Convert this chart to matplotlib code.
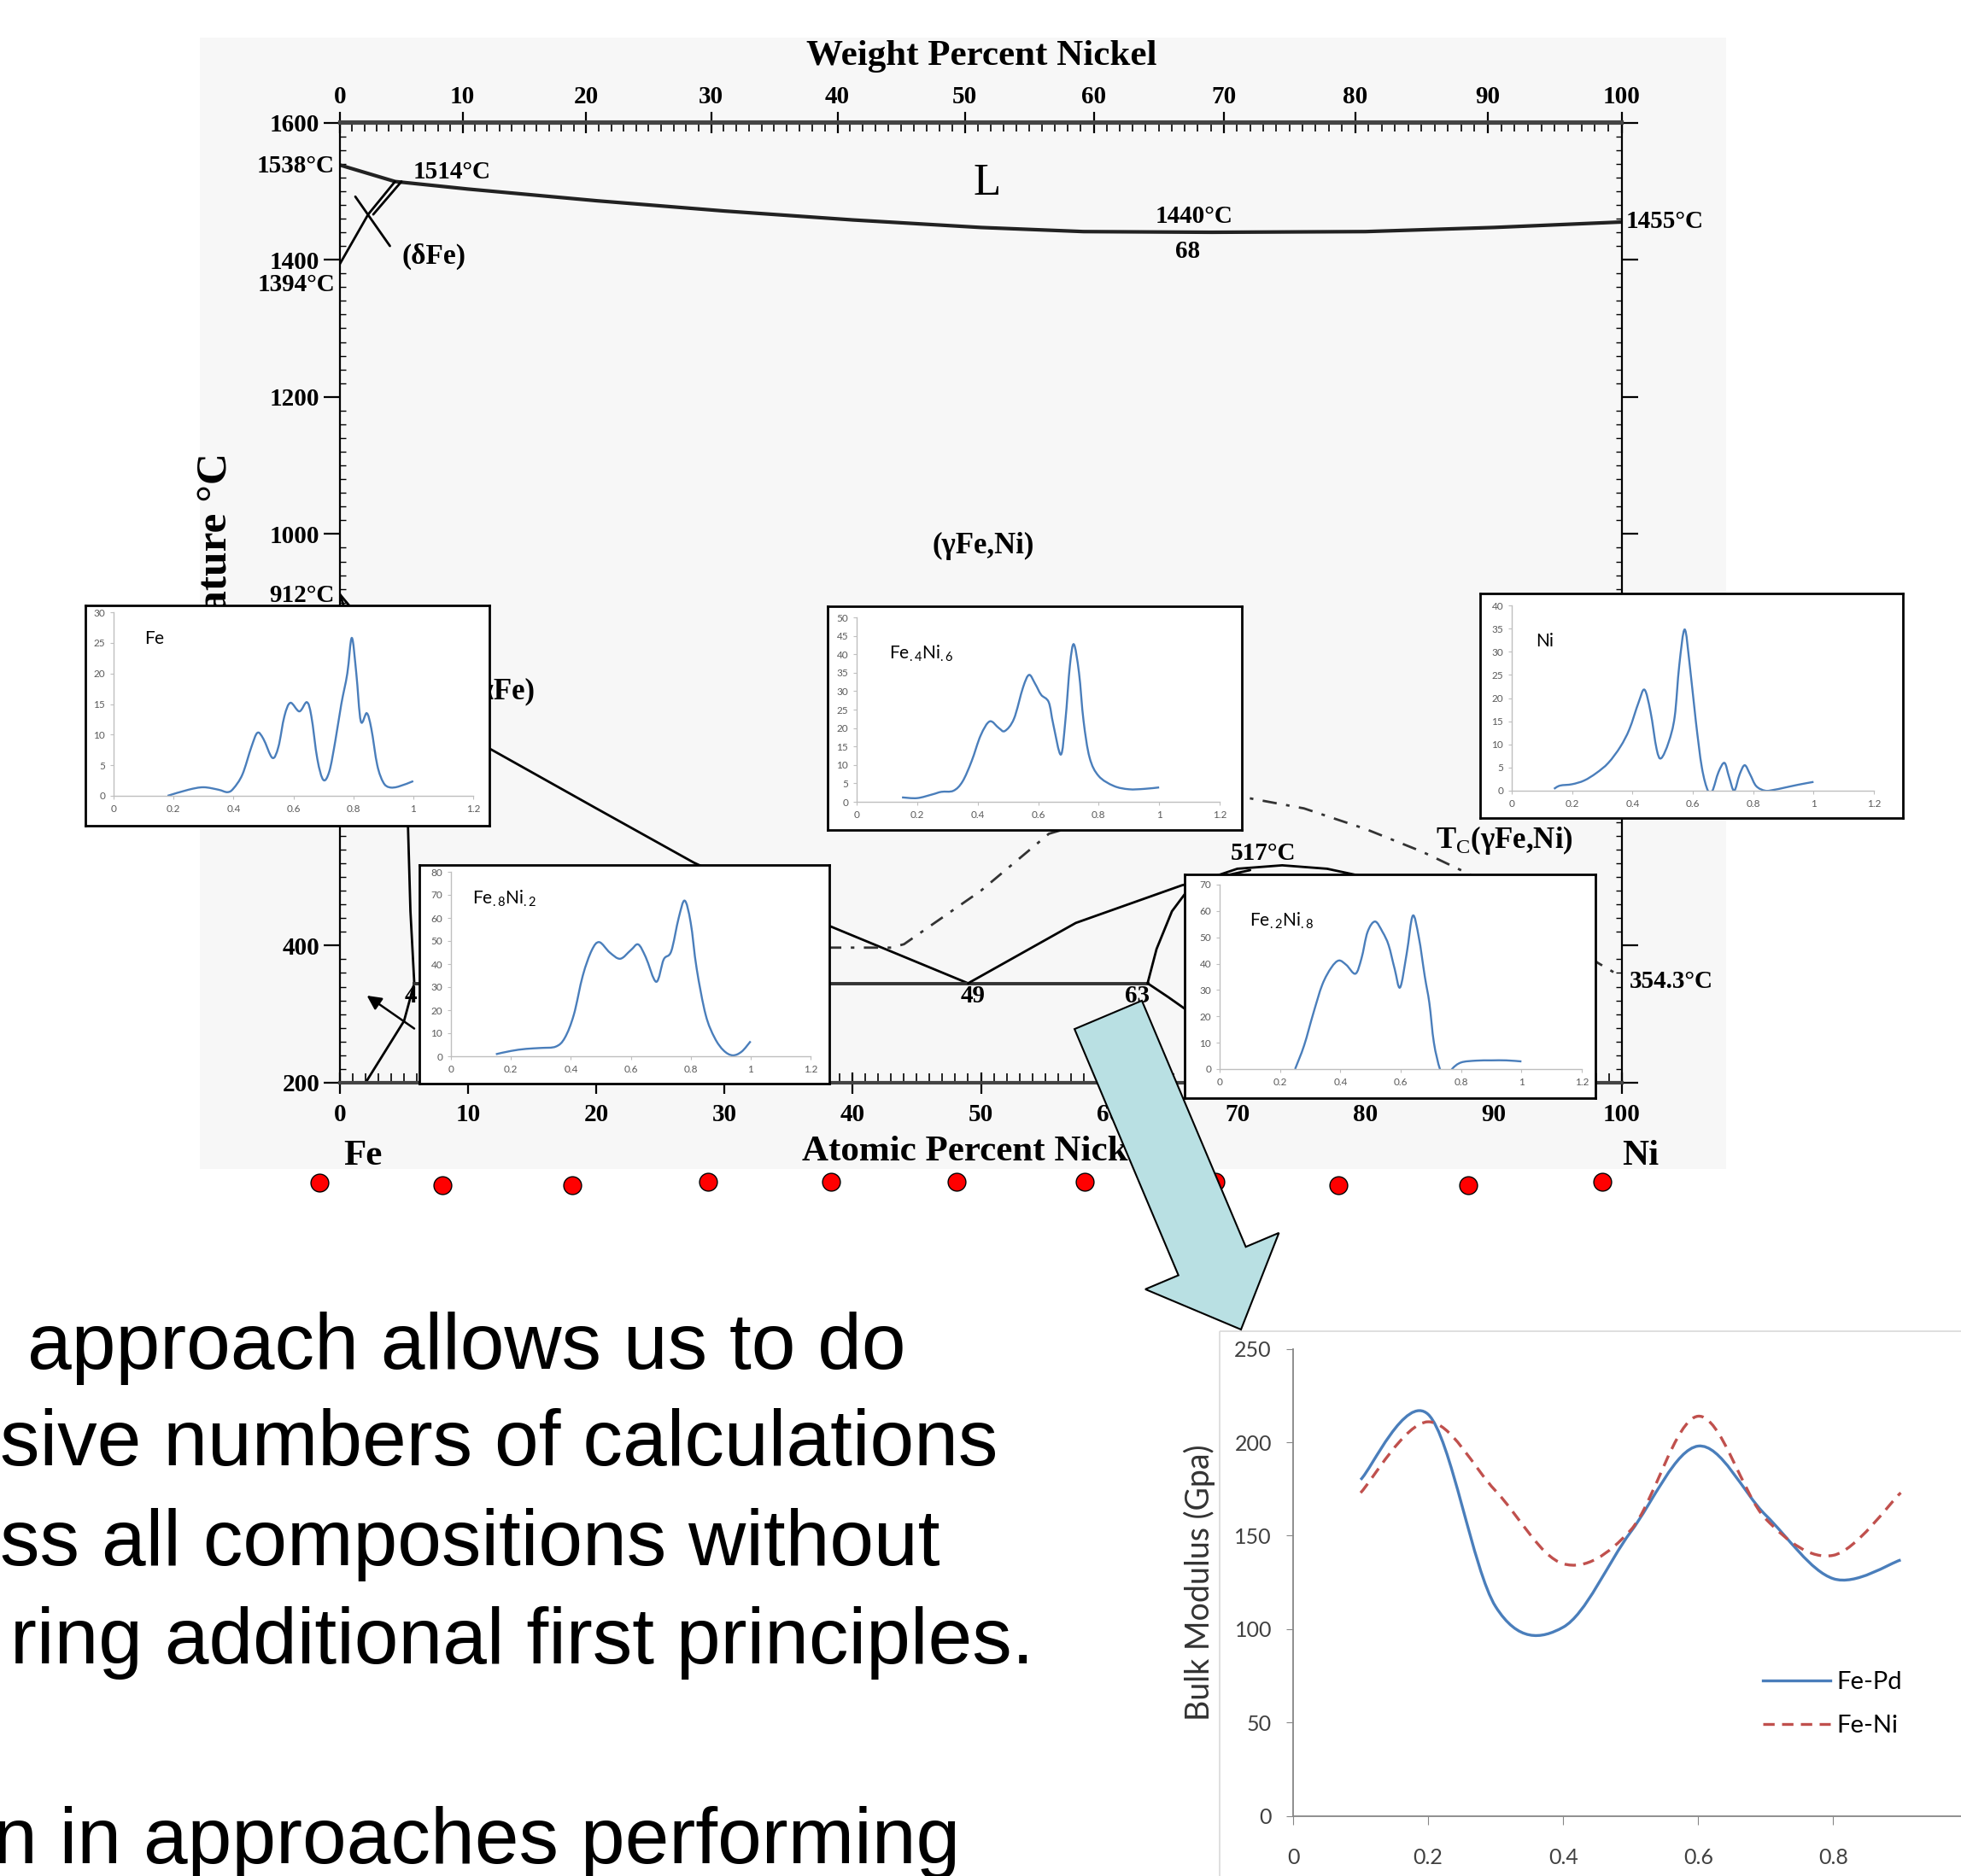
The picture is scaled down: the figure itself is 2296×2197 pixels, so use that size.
import numpy as np
import matplotlib
matplotlib.use("Agg")
import matplotlib.pyplot as plt
from matplotlib.path import Path
from matplotlib.patches import PathPatch, Rectangle, FancyArrow
from matplotlib.lines import Line2D
from matplotlib.ticker import MultipleLocator, FuncFormatter

W, H = 2296, 2197
plt.rcParams['mathtext.fontset'] = 'custom'
plt.rcParams['mathtext.rm'] = 'Liberation Serif'
plt.rcParams['mathtext.sf'] = 'Lato'
SERIF = 'Liberation Serif'

# ---- Fe-Ni phase diagram lines (atomic % Ni, deg C) ----
liq_x = [0, 4.3, 10, 20, 30, 40, 50, 58, 68, 80, 90, 100]
liq_t = [1538, 1514, 1503, 1486, 1471, 1458, 1447, 1441, 1440, 1441, 1447, 1455]
delta1_x = [0, 2.2, 4.3]
delta1_t = [1394, 1466, 1514]
delta2_x = [1.2, 3.9]
delta2_t = [1492, 1420]
delta3_x = [2.6, 4.8]
delta3_t = [1466, 1514]
gamma_x = [0, 5, 11.5, 20, 27.6, 38, 49]
gamma_t = [912, 800, 689, 600, 521, 430, 345]
alpha_x = [0, 2, 4, 5.3, 5.5, 5.8]
alpha_t = [912, 800, 700, 580, 450, 345]
solvus_x = [5.8, 5.0, 3.5, 2.0]
solvus_t = [345, 290, 245, 200]
eut_x = [5.8, 63]
eut_t = [345, 345]
rise_x = [49, 57.4, 65.7, 71]
rise_t = [345, 433, 488, 510]
dome_x = [63, 63.7, 64.9, 66.5, 70, 73.5, 77, 80]
dome_t = [345, 395, 450, 490, 512, 517, 512, 500]
low_x = [63, 64.6, 66.5]
low_t = [345, 325, 300]
tc_x = [38, 43, 44, 50, 55.3, 62, 70.6, 75.2, 80, 84.4, 88, 92, 96, 98.1, 100]
tc_t = [397, 397, 402, 480, 563, 600, 616, 600, 570, 537, 505, 465, 405, 375, 354]

# compositions sampled (red dots)
dot_x = [-1.6, 8.0, 18.1, 28.7, 38.3, 48.1, 58.1, 68.3, 77.9, 88.0, 98.5]
dot_t = [54, 51, 51, 56, 56, 56, 56, 56, 51, 51, 56]

# ---- inset spectra ----
fe_x = [0.18, 0.25, 0.30, 0.35, 0.38, 0.40, 0.43, 0.46, 0.48, 0.50, 0.53, 0.55, 0.57, 0.59, 0.62,
        0.645, 0.66, 0.68, 0.70, 0.72, 0.74, 0.76, 0.78, 0.795, 0.81, 0.825, 0.845, 0.86, 0.88,
        0.90, 0.92, 0.95, 1.0]
fe_y = [0, 1.0, 1.4, 1.0, 0.6, 1.2, 3.5, 8, 10.3, 9.3, 6.2, 8, 13, 15.2, 13.8,
        15.3, 13, 6, 2.6, 4, 9, 15, 20, 25.8, 20, 12.2, 13.5, 11, 5,
        2.2, 1.4, 1.5, 2.4]

fe4ni6_x = [0.15, 0.2, 0.25, 0.28, 0.32, 0.35, 0.38, 0.41, 0.44, 0.47, 0.49, 0.52, 0.55, 0.57,
            0.59, 0.61, 0.635, 0.65, 0.675, 0.69, 0.705, 0.718, 0.735, 0.75, 0.77, 0.8, 0.85,
            0.9, 0.95, 1.0]
fe4ni6_y = [1.2, 1.0, 2.0, 2.7, 3.0, 5.5, 11, 18, 21.8, 20, 19.2, 22.5, 31, 34.4,
            32, 29, 27, 21, 12.8, 22, 37, 42.7, 35, 22, 12, 7, 4.3,
            3.4, 3.5, 3.9]

ni_x = [0.14, 0.16, 0.2, 0.24, 0.28, 0.32, 0.36, 0.39, 0.42, 0.44, 0.46, 0.48, 0.495, 0.52,
        0.54, 0.555, 0.573, 0.59, 0.61, 0.63, 0.65, 0.665, 0.685, 0.705, 0.72, 0.737, 0.755,
        0.772, 0.79, 0.81, 0.84, 0.87, 0.9, 0.95, 1.0]
ni_y = [0.4, 1.1, 1.4, 2.2, 3.8, 6, 9.5, 13.3, 19, 21.8, 17, 9, 7, 10.5,
        16, 27, 34.8, 27, 15, 5, 0, 0, 4, 6, 3, 0, 3.5,
        5.5, 3.5, 1, 0, 0.2, 0.6, 1.3, 1.9]

fe8ni2_x = [0.15, 0.2, 0.25, 0.3, 0.35, 0.38, 0.41, 0.44, 0.47, 0.495, 0.53, 0.565, 0.6, 0.625,
            0.65, 0.685, 0.71, 0.735, 0.76, 0.78, 0.8, 0.82, 0.85, 0.88, 0.91, 0.94, 0.97, 1.0]
fe8ni2_y = [0.9, 2.3, 3.2, 3.6, 4.2, 8, 18, 35, 46, 49.5, 45, 42.3, 46, 48.5,
            43, 32.3, 42, 45.5, 60, 67.5, 58, 38, 18, 8, 2.5, 0.4, 2, 6.5]

fe2ni8_x = [0.25, 0.28, 0.31, 0.34, 0.37, 0.395, 0.42, 0.45, 0.47, 0.49, 0.515, 0.54, 0.56,
            0.58, 0.598, 0.62, 0.64, 0.66, 0.68, 0.695, 0.71, 0.73, 0.75, 0.77, 0.8, 0.85,
            0.9, 0.95, 1.0]
fe2ni8_y = [0, 9, 21, 32, 38.5, 41.2, 39.5, 36.2, 42, 52, 56, 52, 47,
            38, 31, 44, 58.2, 50, 35, 25, 10, 0, -4, 0, 2.5, 3.2,
            3.3, 3.3, 2.9]

# ---- bulk modulus ----
comp = [0.1, 0.2, 0.3, 0.4, 0.5, 0.6, 0.7, 0.8, 0.9]
fepd = [180, 215, 112, 101, 152, 198, 161, 127, 137]
feni = [173, 211, 174, 135, 153, 214, 159, 139.5, 173]

body_lines = ["approach allows us to do",
              "sive numbers of calculations",
              "ss all compositions without",
              "ring additional first principles.",
              "n in approaches performing"]


def smooth_path(x, y):
    pts = np.column_stack([x, y]).astype(float)
    n = len(pts)
    verts = [pts[0]]
    codes = [Path.MOVETO]
    for i in range(n - 1):
        p0 = pts[max(i - 1, 0)]
        p1 = pts[i]
        p2 = pts[i + 1]
        p3 = pts[min(i + 2, n - 1)]
        verts += [p1 + (p2 - p0) / 6, p2 - (p3 - p1) / 6, p2]
        codes += [Path.CURVE4] * 3
    return Path(verts, codes)


def box(x0, y0, x1, y1):
    return [x0 / W, 1 - y1 / H, (x1 - x0) / W, (y1 - y0) / H]


def at2wt(a):
    a = np.asarray(a, float)
    return 100 * a * 58.693 / (a * 58.693 + (100 - a) * 55.845)


def wt2at(w):
    w = np.asarray(w, float)
    return 100 * (w / 58.693) / (w / 58.693 + (100 - w) / 55.845)


fig = plt.figure(figsize=(W / 100, H / 100), dpi=100)

# background layer in pixel coords
bg = fig.add_axes([0, 0, 1, 1], zorder=0)
bg.set_xlim(0, W)
bg.set_ylim(H, 0)
bg.axis('off')
bg.add_patch(Rectangle((234, 44), 1787, 1325, fc='#f7f7f7', ec='none'))
bg.add_patch(Rectangle((1428, 1559), 1200, 900, fc='none', ec='#d9d9d9', lw=1.2))
bg.text(1149, 66, 'Weight Percent Nickel', fontfamily=SERIF, fontweight='bold',
        fontsize=31, ha='center', va='center')
bg.text(1145, 1349, 'Atomic Percent Nickel', fontfamily=SERIF, fontweight='bold',
        fontsize=31, ha='center', va='center')
bg.text(425, 1354, 'Fe', fontfamily=SERIF, fontweight='bold', fontsize=31,
        ha='center', va='center')
bg.text(1921, 1354, 'Ni', fontfamily=SERIF, fontweight='bold', fontsize=31,
        ha='center', va='center')
bg.text(253, 530, 'Temperature °C', fontfamily=SERIF, fontweight='bold', fontsize=37,
        rotation=90, ha='center', va='top')
for i, line in enumerate(body_lines):
    bx = [32, 0, 0, 12, -8][i]
    by = [1603, 1716, 1833, 1948, 2182][i]
    bg.text(bx, by, line, fontfamily='Liberation Sans', fontsize=67, ha='left', va='baseline')

# phase diagram
ax = fig.add_axes(box(398, 143.5, 1899, 1268), zorder=1)
ax.set_facecolor('none')
ax.set_xlim(0, 100)
ax.set_ylim(200, 1600)
lk = dict(color='black', lw=2.0, solid_capstyle='round')
ax.plot(liq_x, liq_t, color='#222222', lw=3.0)
ax.plot(delta1_x, delta1_t, **lk)
ax.plot(delta2_x, delta2_t, **lk)
ax.plot(delta3_x, delta3_t, **lk)
ax.plot(gamma_x, gamma_t, **lk)
ax.plot(alpha_x, alpha_t, **lk)
ax.plot(solvus_x, solvus_t, **lk)
ax.plot(eut_x, eut_t, color='#333333', lw=2.8)
ax.plot(rise_x, rise_t, **lk)
ax.plot(dome_x, dome_t, **lk)
ax.plot(low_x, low_t, **lk)
ax.plot(tc_x, tc_t, color='#333333', lw=2.0, linestyle=(0, (6, 4, 1.5, 4)))
ax.annotate('', xy=(1.95, 329), xytext=(5.95, 277),
            arrowprops=dict(arrowstyle='-|>', color='black', lw=1.8, mutation_scale=25))
ax.scatter(dot_x, dot_t, s=15 ** 2, c='red', edgecolors='black', linewidths=1,
           clip_on=False, zorder=5)

tk = dict(fontfamily=SERIF, fontweight='bold')
ax.text(-0.4, 1536, '1538°C', ha='right', va='center', fontsize=21, **tk)
ax.text(5.7, 1528, '1514°C', ha='left', va='center', fontsize=21, **tk)
ax.text(50.5, 1511, 'L', ha='center', va='center', fontsize=38, fontfamily=SERIF)
ax.text(66.6, 1463, '1440°C', ha='center', va='center', fontsize=21, **tk)
ax.text(66.1, 1412, '68', ha='center', va='center', fontsize=21, **tk)
ax.text(100.3, 1456, '1455°C', ha='left', va='center', fontsize=21, **tk)
ax.text(7.3, 1405, '(δFe)', ha='center', va='center', fontsize=24, **tk)
ax.text(-0.4, 1363, '1394°C', ha='right', va='center', fontsize=21, **tk)
ax.text(-0.4, 910, '912°C', ha='right', va='center', fontsize=21, **tk)
ax.text(50.2, 982, '(γFe,Ni)', ha='center', va='center', fontsize=25, **tk)
ax.text(12.6, 771, '(αFe)', ha='center', va='center', fontsize=25, **tk)
ax.text(72, 534, '517°C', ha='center', va='center', fontsize=21, **tk)
ax.text(85.5, 554, r'T$_\mathrm{C}$(γFe,Ni)', ha='left', va='center', fontsize=25, **tk)
ax.text(100.6, 348, '354.3°C', ha='left', va='center', fontsize=21, **tk)
ax.text(49.4, 326, '49', ha='center', va='center', fontsize=21, **tk)
ax.text(62.2, 326, '63', ha='center', va='center', fontsize=21, **tk)
ax.text(5.5, 326, '4', ha='center', va='center', fontsize=21, **tk)

for s in ['left', 'right']:
    ax.spines[s].set_linewidth(1.6)
for s in ['top', 'bottom']:
    ax.spines[s].set_linewidth(3)
    ax.spines[s].set_color('#444444')
ax.set_xticks(range(0, 101, 10))
ax.set_xticklabels([str(v) for v in range(0, 101, 10)], fontsize=21, **tk)
ax.xaxis.set_minor_locator(MultipleLocator(1))
ax.tick_params(axis='x', which='major', direction='inout', length=18, width=1.6, pad=8)
ax.tick_params(axis='x', which='minor', direction='in', length=8, width=1.2)
ax.set_yticks(range(200, 1601, 200))
ax.set_yticklabels([str(v) for v in range(200, 1601, 200)], fontsize=21, **tk)
ax.yaxis.set_minor_locator(MultipleLocator(20))
ax.tick_params(axis='y', which='major', direction='out', length=14, width=1.6, pad=3,
               right=True)
ax.tick_params(axis='y', which='minor', direction='in', length=5, width=1, right=True)

sec = ax.secondary_xaxis('top', functions=(at2wt, wt2at))
sec.set_xticks(range(0, 101, 10))
sec.set_xticklabels([str(v) for v in range(0, 101, 10)], fontsize=21, **tk)
sec.xaxis.set_minor_locator(MultipleLocator(1))
sec.tick_params(which='major', direction='inout', length=18, width=1.6, pad=3)
sec.tick_params(which='minor', direction='in', length=8, width=1.2)
sec.spines['top'].set_linewidth(3)
sec.spines['top'].set_color('#444444')

# inset spectra
insets = [
    ('$\\mathsf{Fe}$', fe_x, fe_y, 30, 5, (100, 709, 573, 967), (133, 717, 554, 932), (0.086, 0.856)),
    ('$\\mathsf{Fe_{.4}Ni_{.6}}$', fe4ni6_x, fe4ni6_y, 50, 5, (969, 710, 1454, 972),
     (1003, 723, 1428, 939), (0.089, 0.806)),
    ('$\\mathsf{Ni}$', ni_x, ni_y, 40, 5, (1733, 695, 2228, 958), (1770, 709, 2194, 926),
     (0.066, 0.806)),
    ('$\\mathsf{Fe_{.8}Ni_{.2}}$', fe8ni2_x, fe8ni2_y, 80, 10, (491, 1013, 971, 1269),
     (528, 1021, 949, 1237), (0.059, 0.856)),
    ('$\\mathsf{Fe_{.2}Ni_{.8}}$', fe2ni8_x, fe2ni8_y, 70, 10, (1387, 1024, 1868, 1286),
     (1428, 1036, 1852, 1252), (0.083, 0.806)),
]
for label, xs, ys, ymax, ystep, frame, inner, lpos in insets:
    fa = fig.add_axes(box(*frame), zorder=2)
    fa.set_facecolor('white')
    fa.set_xticks([])
    fa.set_yticks([])
    for s in fa.spines.values():
        s.set_linewidth(2)
        s.set_color('black')
    ia = fig.add_axes(box(*inner), zorder=3)
    ia.set_facecolor('none')
    ia.add_patch(PathPatch(smooth_path(xs, ys), fill=False, ec='#4a7ebb', lw=1.7))
    ia.set_xlim(0, 1.2)
    ia.set_ylim(0, ymax)
    ia.set_xticks(np.arange(0, 1.21, 0.2))
    ia.set_yticks(range(0, ymax + 1, ystep))
    ia.xaxis.set_major_formatter(FuncFormatter(lambda v, p: '{:g}'.format(round(v, 1))))
    for s in ['top', 'right']:
        ia.spines[s].set_visible(False)
    for s in ['left', 'bottom']:
        ia.spines[s].set_color('#bfbfbf')
        ia.spines[s].set_linewidth(1)
    ia.tick_params(length=3, color='#bfbfbf', labelsize=8.5, labelcolor='#595959', pad=4)
    for t in ia.get_xticklabels() + ia.get_yticklabels():
        t.set_fontfamily('Lato')
    ia.text(lpos[0], lpos[1], label, transform=ia.transAxes, fontsize=15,
            ha='left', va='center')

# bulk modulus chart
bx = fig.add_axes([1514 / W, 1 - 2126.5 / H, 790.5 / W, 546.7 / H], zorder=2)
bx.set_facecolor('none')
bx.add_patch(PathPatch(smooth_path(comp, fepd), fill=False, ec='#4a7ebb', lw=2.4))
bx.add_patch(PathPatch(smooth_path(comp, feni), fill=False, ec='#c0504d', lw=2.4,
                       linestyle=(0, (4, 2.6))))
bx.set_xlim(0, 1.0)
bx.set_ylim(0, 250)
bx.set_xticks([0, 0.2, 0.4, 0.6, 0.8])
bx.set_xticklabels(['0', '0.2', '0.4', '0.6', '0.8'])
bx.set_yticks(range(0, 251, 50))
for s in ['top', 'right']:
    bx.spines[s].set_visible(False)
for s in ['left', 'bottom']:
    bx.spines[s].set_color('#868686')
    bx.spines[s].set_linewidth(1.3)
bx.tick_params(axis='y', length=6, color='#868686', labelsize=18, labelcolor='#404040', pad=12)
bx.tick_params(axis='x', length=7, color='#868686', labelsize=18, labelcolor='#404040', pad=20)
for t in bx.get_xticklabels() + bx.get_yticklabels():
    t.set_fontfamily('Lato')
bx.set_ylabel('Bulk Modulus (Gpa)', fontfamily='Lato', fontsize=27, labelpad=16, color='#333333')
handles = [Line2D([], [], color='#4a7ebb', lw=2.4),
           Line2D([], [], color='#c0504d', lw=2.4, linestyle=(0, (4, 2.6)))]
bx.legend(handles, ['Fe-Pd', 'Fe-Ni'], loc='upper left', bbox_to_anchor=(0.696, 0.31),
          frameon=False, borderpad=0, borderaxespad=0, handlelength=2.7, handletextpad=0.25,
          labelspacing=0.85, prop={'family': 'Lato', 'size': 21})

# overlay arrow
ov = fig.add_axes([0, 0, 1, 1], zorder=10)
ov.set_xlim(0, W)
ov.set_ylim(H, 0)
ov.axis('off')
ov.add_patch(FancyArrow(1297.5, 1188.5, 155.5, 368.5, width=85.6, head_width=169.8,
                        head_length=87, length_includes_head=True, fc='#b9e0e3',
                        ec='black', lw=1.5))

fig.savefig('out.png', dpi=100)
